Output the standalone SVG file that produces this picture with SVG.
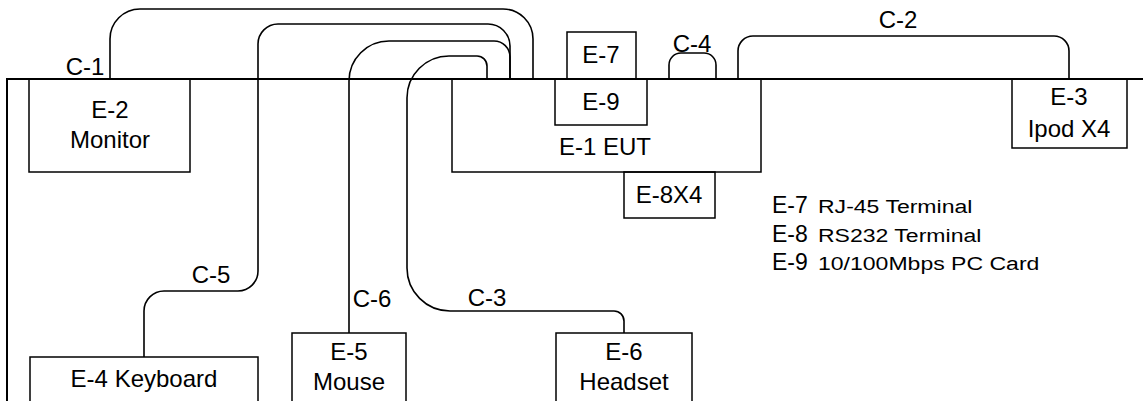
<svg xmlns="http://www.w3.org/2000/svg" width="1143" height="401" viewBox="0 0 1143 401">
<style>
.box{fill:none;stroke:#000;stroke-width:1.5}
.base{fill:none;stroke:#000;stroke-width:2}
.cable{fill:none;stroke:#000;stroke-width:1.6}
text{font-family:"Liberation Sans",Arial,sans-serif;font-size:24px;fill:#000}
.c{text-anchor:middle}
.lg{font-size:23px}
.sm{font-size:18px}
</style>
<rect width="1143" height="401" fill="#fff"/>
<g id="connectors">
<path class="cable" d="M110,79 V39 A30,30 0 0 1 140,9 H503 A30,30 0 0 1 533,39 V79"/>
<path class="cable" d="M144,357 V311 A20,20 0 0 1 164,291 H238 A20,20 0 0 0 258,271 V44 A20,20 0 0 1 278,24 H488 A22,22 0 0 1 510,46 V79"/>
<path class="cable" d="M349,333 V81 A40,40 0 0 1 389,41 H494 A16,16 0 0 1 510,57 V79"/>
<path class="cable" d="M624,333 V321 A10,10 0 0 0 614,311 H450 A43,43 0 0 1 407,268 V98 A42,42 0 0 1 449,56 H477 A10,10 0 0 1 487,66 V79"/>
<path class="cable" d="M738,79 V51 A15,15 0 0 1 753,36 H1054 A15,15 0 0 1 1069,51 V79"/>
<path class="cable" d="M669,79 V65 A12,12 0 0 1 681,53 H704 A12,12 0 0 1 716,65 V79"/>
<text class="c" x="85" y="75">C-1</text>
<text class="c" x="898" y="28">C-2</text>
<text class="c" x="692" y="52">C-4</text>
<text class="c" x="211" y="283">C-5</text>
<text class="c" x="372" y="307">C-6</text>
<text class="c" x="487" y="306">C-3</text>
</g>
<g id="base">
<path class="base" d="M7,401 V79 H1143"/>
</g>
<g id="E-2"><rect class="box" x="29" y="79" width="161" height="93"/><text class="c" x="110" y="118">E-2</text><text class="c" x="110" y="148">Monitor</text></g>
<g id="E-1"><rect class="box" x="452" y="79" width="309" height="93"/><text class="c" x="605" y="155">E-1 EUT</text></g>
<g id="E-9"><rect class="box" x="555" y="79" width="92" height="46"/><text class="c" x="601" y="110">E-9</text></g>
<g id="E-7"><rect class="box" x="567" y="32" width="69" height="47"/><text class="c" x="601" y="63">E-7</text></g>
<g id="E-8"><rect class="box" x="624" y="172" width="91" height="46"/><text class="c" x="669" y="203">E-8X4</text></g>
<g id="E-3"><rect class="box" x="1012" y="79" width="115" height="69"/><text class="c" x="1069" y="105">E-3</text><text class="c" x="1069" y="137">Ipod X4</text></g>
<g id="E-4"><rect class="box" x="30" y="357" width="228" height="60"/><text class="c" x="144" y="387">E-4 Keyboard</text></g>
<g id="E-5"><rect class="box" x="292" y="333" width="114" height="80"/><text class="c" x="349" y="360">E-5</text><text class="c" x="349" y="390">Mouse</text></g>
<g id="E-6"><rect class="box" x="556" y="333" width="136" height="80"/><text class="c" x="624" y="360">E-6</text><text class="c" x="624" y="390">Headset</text></g>
<g id="legend">
<text class="lg" x="772" y="213">E-7</text>
<text class="lg" x="772" y="242">E-8</text>
<text class="lg" x="772" y="270">E-9</text>
<text class="sm" transform="translate(818,213) scale(1.28,1)">RJ-45 Terminal</text>
<text class="sm" transform="translate(818,242) scale(1.28,1)">RS232 Terminal</text>
<text class="sm" transform="translate(818,270) scale(1.28,1)">10/100Mbps PC Card</text>
</g>
</svg>
